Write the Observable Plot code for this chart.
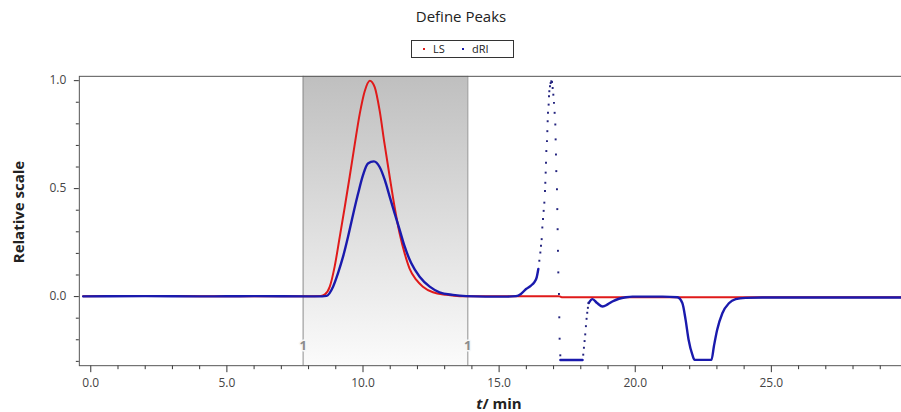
<!DOCTYPE html>
<html><head><meta charset="utf-8">
<script src="https://cdn.jsdelivr.net/npm/d3@7"></script>
<script src="https://cdn.jsdelivr.net/npm/@observablehq/plot@0.6"></script>
<style>
html,body{margin:0;padding:0;background:#fff;}
#wrap{position:relative;width:901px;height:412px;overflow:hidden;font-family:"Open Sans",sans-serif;color:#333;}
#chart{position:absolute;left:0;top:0;}
#title{position:absolute;top:6px;left:361px;width:200px;text-align:center;font-size:15px;color:#222;}
#legend{position:absolute;left:411px;top:40px;width:101px;height:16px;border:1px solid #333;font-size:11px;color:#222;}
#legend span{position:absolute;top:0px;line-height:16px;}
#legend i{position:absolute;top:7px;width:2px;height:2px;}
#ylab{position:absolute;left:18px;top:212px;transform:translate(-50%,-50%) rotate(-90deg);font-weight:bold;font-size:15px;white-space:nowrap;color:#222;}
#xlab{position:absolute;left:499px;top:403px;transform:translate(-50%,-50%);font-weight:bold;font-size:15px;white-space:nowrap;color:#222;}
</style></head>
<body>
<div id="wrap">
  <div id="chart"></div>
  <div id="title">Define Peaks</div>
  <div id="legend"></div>
  <div id="ylab">Relative scale</div>
  <div id="xlab"><i>t</i>/ min</div>
</div>
<script>
// ---- data ----
const seriesNames = ["LS", "dRI"];
const seriesColors = ["#e01a1a", "#1a1aad"];

const xDomain = [-0.42, 29.78];
const yDomain = [-0.32, 1.02];
const xMajorTicks = [0, 5, 10, 15, 20, 25];
const xMinorTicks = [1,2,3,4,6,7,8,9,11,12,13,14,16,17,18,19,21,22,23,24,26,27,28,29];
const yMajorTicks = [0, 0.5, 1.0];
const yMinorTicks = [-0.3,-0.2,-0.1,0.1,0.2,0.3,0.4,0.6,0.7,0.8,0.9];

const peakBounds = [7.8, 13.85];
const peakLabels = ["1", "1"];

// LS (red)
const lsT = [-0.28, 2, 4, 6, 8, 8.45, 8.6, 8.78, 8.96, 9.15, 9.33, 9.51, 9.70, 9.88, 10.06, 10.25, 10.43, 10.61, 10.79, 10.98, 11.16, 11.35, 11.53, 11.71, 11.96, 12.2, 12.57, 13.06, 13.55, 15, 17.2, 17.3, 20, 25, 29.78];
const lsV = [0.002, 0.003, 0.002, 0.002, 0.002, 0.003, 0.01, 0.046, 0.14, 0.28, 0.415, 0.555, 0.708, 0.846, 0.95, 1.0, 0.97, 0.862, 0.708, 0.555, 0.415, 0.29, 0.2, 0.13, 0.077, 0.046, 0.02, 0.008, 0.002, 0.002, 0.002, -0.003, -0.003, -0.003, -0.003];

// dRI (blue) continuous parts; null marks a gap
const driT = [-0.28, 2, 4, 6, 8, 8.5, 8.66, 8.90, 9.08, 9.27, 9.45, 9.63, 9.82, 10.0, 10.18, 10.40, 10.61, 10.80, 10.98, 11.16, 11.35, 11.53, 11.77, 12.08, 12.45, 12.81, 13.30, 13.79, 14.5, 15.3, 15.62, 15.80, 15.99, 16.17, 16.29, 16.38, 16.44,
  17.24,
  17.25, 17.5, 17.8, 18.065,
  18.28,
  18.29, 18.43, 18.6, 18.80, 19.0, 19.16, 19.4, 19.66, 19.9, 20.5, 21.0, 21.55, 21.73, 21.85, 21.96, 22.10, 22.18, 22.5, 22.80, 22.89, 23.01, 23.20, 23.44, 23.69, 24.05, 24.66, 26, 28, 29.78];
const driV = [0.001, 0.002, 0.001, 0.002, 0.001, 0.001, 0.003, 0.046, 0.108, 0.186, 0.277, 0.377, 0.477, 0.562, 0.616, 0.626, 0.60, 0.54, 0.463, 0.386, 0.308, 0.232, 0.155, 0.092, 0.046, 0.02, 0.008, 0.002, 0.0, 0.0, 0.002, 0.012, 0.035, 0.051, 0.066, 0.089, 0.128,
  null,
  -0.294, -0.294, -0.294, -0.294,
  null,
  -0.03, -0.012, -0.03, -0.046, -0.035, -0.023, -0.01, -0.003, 0.0, 0.0, 0.0, -0.003, -0.03, -0.108, -0.2, -0.27, -0.293, -0.293, -0.293, -0.23, -0.154, -0.077, -0.031, -0.012, -0.006, -0.004, -0.004, -0.004, -0.004];

// dRI sparse samples (steep spike, drawn as points)
const spikeT = [16.477, 16.514, 16.538, 16.563, 16.587, 16.612, 16.636, 16.661, 16.685, 16.697, 16.710, 16.722, 16.734, 16.758, 16.771, 16.783, 16.795, 16.819, 16.832, 16.844, 16.868, 16.893, 16.917,
  16.942, 16.966, 16.991, 17.015, 17.039, 17.064, 17.076, 17.088, 17.100, 17.125, 17.137, 17.149, 17.161, 17.174, 17.198, 17.210, 17.222, 17.247,
  18.09, 18.115, 18.139, 18.163, 18.188, 18.212, 18.237, 18.261, 18.286];
const spikeV = [0.166, 0.204, 0.235, 0.266, 0.320, 0.359, 0.397, 0.435, 0.489, 0.527, 0.574, 0.620, 0.674, 0.720, 0.766, 0.812, 0.851, 0.889, 0.928, 0.951, 0.974, 0.989, 0.997,
  0.994, 0.966, 0.935, 0.897, 0.851, 0.797, 0.728, 0.658, 0.581, 0.497, 0.405, 0.312, 0.212, 0.112, 0.012, -0.096, -0.195, -0.272,
  -0.269, -0.237, -0.206, -0.175, -0.137, -0.103, -0.075, -0.052, -0.029];

// ---- build ----
const ls = lsT.map((t, i) => ({t, v: lsV[i]}));
const dri = driT.map((t, i) => ({t, v: driV[i]}));
const spike = spikeT.map((t, i) => ({t, v: spikeV[i]}));
const shade = [{a: peakBounds[0], b: peakBounds[1]}];

const defs = () => {
  const ns = "http://www.w3.org/2000/svg";
  const d = document.createElementNS(ns, "defs");
  d.innerHTML = '<linearGradient id="shadeGrad" x1="0" y1="0" x2="0" y2="1">' +
    '<stop offset="0" stop-color="#bfbfbf"/><stop offset="1" stop-color="#fbfbfb"/></linearGradient>';
  return d;
};

const plot = Plot.plot({
  width: 903, height: 412,
  marginLeft: 79, marginRight: 0, marginTop: 76, marginBottom: 46,
  x: {domain: xDomain, label: null},
  y: {domain: yDomain, label: null},
  style: {fontFamily: "Open Sans", fontSize: "12px", color: "#444", background: "transparent"},
  marks: [
    defs,
    Plot.rect(shade, {x1: "a", x2: "b", fill: "url(#shadeGrad)"}),
    Plot.ruleX(peakBounds, {stroke: "#8f8f8f", strokeWidth: 1}),
    Plot.text(peakBounds, {x: d => d, frameAnchor: "bottom", dy: -16, text: (d, i) => peakLabels[i], fill: "#8c8c8c", fontWeight: "bold", fontSize: 13, stroke: "#f6f6f6", strokeWidth: 3}),
    Plot.axisX(xMajorTicks, {tickSize: 7, tickPadding: 6, tickFormat: d3.format(".1f"), label: null, stroke: "#333"}),
    Plot.axisX(xMinorTicks, {tickSize: 4, tickFormat: () => "", label: null, stroke: "#333"}),
    Plot.axisY(yMajorTicks, {tickSize: 5, tickPadding: 8, tickFormat: d3.format(".1f"), label: null, stroke: "#333"}),
    Plot.axisY(yMinorTicks, {tickSize: 3, tickFormat: () => "", label: null, stroke: "#333"}),
    Plot.frame({stroke: "#555"}),
    Plot.line(ls, {x: "t", y: "v", stroke: seriesColors[0], strokeWidth: 2, curve: "monotone-x"}),
    Plot.line(dri, {x: "t", y: "v", stroke: seriesColors[1], strokeWidth: 2.4, curve: "monotone-x"}),
    Plot.dot(spike, {x: "t", y: "v", r: 1.1, fill: "#23237e", stroke: null, symbol: "square"})
  ]
});
document.getElementById("chart").appendChild(plot);

// legend
const lg = document.getElementById("legend");
const pos = [{dot: 11, txt: 21}, {dot: 50, txt: 60}];
seriesNames.forEach((n, i) => {
  const dot = document.createElement("i");
  dot.style.left = pos[i].dot + "px";
  dot.style.background = seriesColors[i];
  lg.appendChild(dot);
  const s = document.createElement("span");
  s.style.left = pos[i].txt + "px";
  s.textContent = n;
  lg.appendChild(s);
});
</script>
</body></html>
